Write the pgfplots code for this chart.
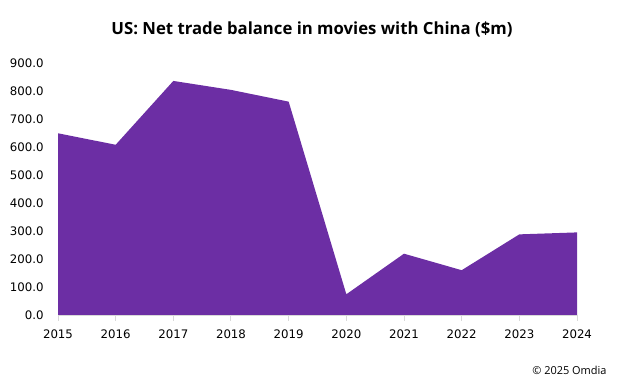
\documentclass[border=0pt]{standalone}
\usepackage{fontspec}
\setmainfont{DejaVu Sans}
\newfontfamily\titlefont{Open Sans}
\usepackage{pgfplots}
\pgfplotsset{compat=1.18}
\definecolor{areapurple}{RGB}{108,46,164}
\definecolor{axisgrey}{RGB}{217,217,217}
\begin{document}
\begin{tikzpicture}
\path[use as bounding box] (0,0) rectangle (628bp,380bp);
\begin{axis}[
  at={(58bp,65bp)}, anchor=south west,
  scale only axis,
  width=519bp, height=252bp,
  xmin=2015, xmax=2024,
  ymin=0, ymax=900,
  xtick={2015,2016,...,2024},
  ytick={0,100,...,900},
  axis x line*=bottom,
  axis y line*=left,
  y axis line style={draw=none},
  ytick style={draw=none},
  x axis line style={axisgrey, line width=1pt, -},
  xtick style={axisgrey, line width=1pt},
  major tick length=6bp,
  tick align=outside,
  xticklabel style={font=\fontsize{11.8}{14}\selectfont, yshift=-5bp},
  yticklabel style={font=\fontsize{11.8}{14}\selectfont, xshift=-5bp},
  /pgf/number format/assume math mode=true,
  x tick label style={/pgf/number format/1000 sep={}},
  y tick label style={/pgf/number format/.cd, fixed, fixed zerofill, precision=1},
  clip=false,
]
\addplot[fill=areapurple, draw=none] coordinates {
 (2015,649) (2016,608) (2017,836) (2018,804) (2019,762)
 (2020,74) (2021,219) (2022,160) (2023,288) (2024,295)
} \closedcycle;
\pgfplotsextra{\draw[axisgrey, line width=1pt] (axis cs:2015,0) -- (axis cs:2024,0);}
\end{axis}
\node[anchor=center, font=\titlefont\bfseries\fontsize{16.8}{20}\selectfont] at (312bp,351bp) {US: Net trade balance in movies with China (\$m)};
\node[anchor=east, font=\titlefont\fontsize{11}{13}\selectfont] at (610bp,10bp) {\textcopyright{} 2025 Omdia};
\end{tikzpicture}
\end{document}
